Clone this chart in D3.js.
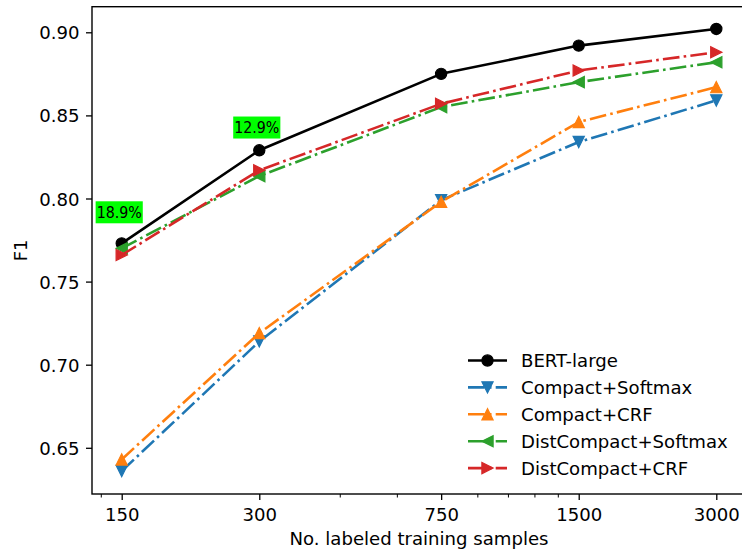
<!DOCTYPE html>
<html><head><meta charset="utf-8">
<script src="https://cdn.jsdelivr.net/npm/d3@7"></script>
<style>body{margin:0;background:#fff}svg{display:block}text{font-family:"DejaVu Sans",sans-serif;fill:#000}</style>
</head><body>
<script>
const samples = [150, 300, 750, 1500, 3000];
const tickLabels = ["150", "300", "750", "1500", "3000"];
const minorTicks = [135, 450, 600, 900, 1050, 1200, 1350];
const yTicks = [0.65, 0.70, 0.75, 0.80, 0.85, 0.90];
const bertLarge = [0.773, 0.829, 0.875, 0.892, 0.902];
const compactSoftmax = [0.636, 0.714, 0.799, 0.834, 0.859];
const compactCRF = [0.643, 0.719, 0.798, 0.846, 0.867];
const distCompactSoftmax = [0.770, 0.8135, 0.855, 0.870, 0.882];
const distCompactCRF = [0.766, 0.817, 0.857, 0.877, 0.888];
const seriesNames = ["BERT-large", "Compact+Softmax", "Compact+CRF", "DistCompact+Softmax", "DistCompact+CRF"];
const annotLabels = ["18.9%", "12.9%"];
const annotX = [150, 300];
const annotY = [0.792, 0.843];

const W = 742, H = 550;
const FS = "18.1px";
const m = {l: 92, r: 746, t: 6.7, b: 494};
const svg = d3.select("body").append("svg").attr("width", W).attr("height", H);

const x = d3.scaleLog().domain([150 * Math.pow(10, -0.065), 3000 * Math.pow(10, 0.065)]).range([m.l, m.r]);
const y = d3.scaleLinear().domain([0.6222, 0.9154]).range([m.b, m.t]);

const styles = [
  {color: "#000000", dash: null, marker: "circle"},
  {color: "#1f77b4", dash: "16.7,4.2,2.6,4.2", marker: "down"},
  {color: "#ff7f0e", dash: "16.7,4.2,2.6,4.2", marker: "up"},
  {color: "#2ca02c", dash: "16.7,4.2,2.6,4.2", marker: "left"},
  {color: "#d62728", dash: "16.7,4.2,2.6,4.2", marker: "right"}
];
const data = [bertLarge, compactSoftmax, compactCRF, distCompactSoftmax, distCompactCRF];

function markerPath(type, s) {
  if (type === "down") return `M${-s},${-s}L${s},${-s}L0,${s}Z`;
  if (type === "up") return `M0,${-s}L${-s},${s}L${s},${s}Z`;
  if (type === "left") return `M${-s},0L${s},${-s}L${s},${s}Z`;
  if (type === "right") return `M${s},0L${-s},${-s}L${-s},${s}Z`;
  return null;
}
function drawMarker(g, type, color, cx, cy) {
  if (type === "circle") {
    g.append("circle").attr("cx", cx).attr("cy", cy).attr("r", 5.6)
      .attr("fill", color).attr("stroke", color).attr("stroke-width", 1.2);
  } else {
    g.append("path").attr("d", markerPath(type, 5.6)).attr("transform", `translate(${cx},${cy})`)
      .attr("fill", color).attr("stroke", color).attr("stroke-width", 1.2).attr("stroke-linejoin", "miter");
  }
}

const plot = svg.append("g");
const line = d3.line().x((d, i) => x(samples[i])).y(d => y(d));
data.forEach((vals, k) => {
  const st = styles[k];
  plot.append("path").attr("d", line(vals)).attr("fill", "none")
    .attr("stroke", st.color).attr("stroke-width", 2.6)
    .attr("stroke-dasharray", st.dash).attr("stroke-linejoin", "round").attr("stroke-linecap", st.dash ? "butt" : "square");
  vals.forEach((v, i) => drawMarker(plot, st.marker, st.color, x(samples[i]), y(v)));
});

// annotations
annotLabels.forEach((lab, i) => {
  const g = svg.append("g");
  const t = g.append("text").attr("x", x(annotX[i]) - 2.5).attr("y", y(annotY[i]) + 6)
    .attr("text-anchor", "middle")
    .style("font-family", '"DejaVu Sans Condensed","DejaVu Sans",sans-serif')
    .style("font-stretch", "condensed").style("font-size", "15.8px").text(lab);
  const bb = t.node().getBBox();
  g.insert("rect", "text").attr("x", bb.x - 1).attr("y", bb.y - 1.5).attr("width", bb.width + 2).attr("height", bb.height + 3)
    .attr("fill", "#00ff00");
});

// axes
const ax = svg.append("g");
const xAxis = d3.axisBottom(x).tickValues(samples).tickFormat((d, i) => tickLabels[i]).tickSize(6).tickPadding(6);
const gx = ax.append("g").attr("transform", `translate(0,${m.b})`).call(xAxis);
gx.select(".domain").remove();
gx.selectAll(".tick line").attr("stroke", "#000").attr("stroke-width", 1.3);
gx.selectAll(".tick text").style("font-size", FS).attr("dy", null).attr("y", 27);
const xMinor = d3.axisBottom(x).tickValues(minorTicks).tickFormat("").tickSize(3.5);
const gxm = ax.append("g").attr("transform", `translate(0,${m.b})`).call(xMinor);
gxm.select(".domain").remove();
gxm.selectAll(".tick line").attr("stroke", "#000").attr("stroke-width", 1.0);

const yAxis = d3.axisLeft(y).tickValues(yTicks).tickFormat(d3.format(".2f")).tickSize(6).tickPadding(6.5);
const gy = ax.append("g").attr("transform", `translate(${m.l},0)`).call(yAxis);
gy.select(".domain").remove();
gy.selectAll(".tick line").attr("stroke", "#000").attr("stroke-width", 1.3);
gy.selectAll(".tick text").style("font-size", FS).attr("dy", "0.36em");

// spines
ax.append("rect").attr("x", m.l).attr("y", m.t).attr("width", m.r - m.l).attr("height", m.b - m.t)
  .attr("fill", "none").attr("stroke", "#000").attr("stroke-width", 1.4);

// labels
svg.append("text").attr("x", (m.l + m.r) / 2).attr("y", 545).attr("text-anchor", "middle")
  .style("font-size", FS).text("No. labeled training samples");
svg.append("text").attr("transform", `translate(26.5,${(m.t + m.b) / 2}) rotate(-90)`).attr("text-anchor", "middle")
  .style("font-size", FS).text("F1");

// legend
const leg = svg.append("g");
seriesNames.forEach((name, i) => {
  const cy = 360.5 + i * 26.9;
  const st = styles[i];
  leg.append("line").attr("x1", 468).attr("x2", 507).attr("y1", cy).attr("y2", cy)
    .attr("stroke", st.color).attr("stroke-width", 2.6).attr("stroke-dasharray", st.dash);
  drawMarker(leg, st.marker, st.color, 487.5, cy);
  leg.append("text").attr("x", 521).attr("y", cy + 6.4).style("font-size", FS).text(name);
});
</script>
</body></html>
